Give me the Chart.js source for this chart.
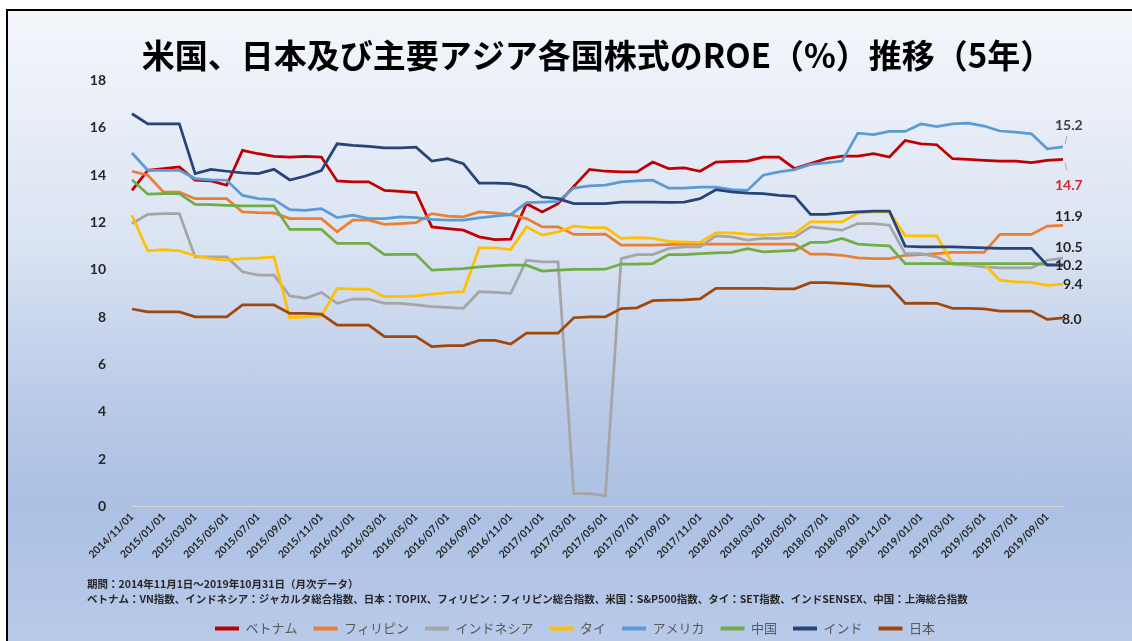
<!DOCTYPE html>
<html lang="ja">
<head>
<meta charset="utf-8">
<title>ROE推移</title>
<script src="https://cdn.jsdelivr.net/npm/chart.js@4.4.1/dist/chart.umd.min.js"></script>
<style>
  html, body { margin: 0; padding: 0; width: 1132px; height: 641px; overflow: hidden; background: #fff; }
  #frame {
    position: absolute; left: 6px; top: 9px; right: 0; bottom: 0;
    border-top: 2px solid #000; border-left: 2px solid #000;
    background: linear-gradient(to bottom, #f4f6fb 0%, #dbe4f3 36%, #bccce9 60%, #abc0e3 78%, #b9cae9 100%);
  }
  #wrap { position: absolute; left: 0; top: 0; width: 1132px; height: 645px; }
</style>
</head>
<body>
<div id="frame"></div>
<div id="wrap"><canvas id="chartROE" width="1132" height="645"></canvas></div>
<script>
const months = [
  "2014/11/01", "2014/12/01",
  "2015/01/01", "2015/02/01", "2015/03/01", "2015/04/01", "2015/05/01", "2015/06/01",
  "2015/07/01", "2015/08/01", "2015/09/01", "2015/10/01", "2015/11/01", "2015/12/01",
  "2016/01/01", "2016/02/01", "2016/03/01", "2016/04/01", "2016/05/01", "2016/06/01",
  "2016/07/01", "2016/08/01", "2016/09/01", "2016/10/01", "2016/11/01", "2016/12/01",
  "2017/01/01", "2017/02/01", "2017/03/01", "2017/04/01", "2017/05/01", "2017/06/01",
  "2017/07/01", "2017/08/01", "2017/09/01", "2017/10/01", "2017/11/01", "2017/12/01",
  "2018/01/01", "2018/02/01", "2018/03/01", "2018/04/01", "2018/05/01", "2018/06/01",
  "2018/07/01", "2018/08/01", "2018/09/01", "2018/10/01", "2018/11/01", "2018/12/01",
  "2019/01/01", "2019/02/01", "2019/03/01", "2019/04/01", "2019/05/01", "2019/06/01",
  "2019/07/01", "2019/08/01", "2019/09/01", "2019/10/01"
];

const yTicks = [0, 2, 4, 6, 8, 10, 12, 14, 16, 18];

const vietnam = [
  13.36, 14.21, 14.28, 14.35, 13.79, 13.76, 13.58, 15.05, 14.91, 14.8, 14.77, 14.8,
  14.77, 13.76, 13.72, 13.72, 13.36, 13.32, 13.27, 11.82, 11.75, 11.68, 11.4, 11.28,
  11.3, 12.8, 12.45, 12.8, 13.53, 14.25, 14.17, 14.14, 14.14, 14.56, 14.28, 14.31,
  14.17, 14.56, 14.59, 14.6, 14.77, 14.77, 14.28, 14.49, 14.7, 14.81, 14.81, 14.91,
  14.77, 15.47, 15.33, 15.29, 14.7, 14.67, 14.63, 14.6, 14.6, 14.53, 14.63, 14.67
];
const philippines = [
  14.17, 14.0, 13.29, 13.29, 13.01, 13.01, 13.01, 12.45, 12.42, 12.41, 12.17, 12.17,
  12.17, 11.61, 12.1, 12.1, 11.93, 11.96, 12.0, 12.38, 12.27, 12.24, 12.45, 12.41,
  12.34, 12.17, 11.82, 11.82, 11.5, 11.5, 11.51, 11.05, 11.05, 11.05, 11.07, 11.09,
  11.09, 11.09, 11.09, 11.09, 11.09, 11.09, 11.09, 10.67, 10.67, 10.62, 10.51, 10.48,
  10.48, 10.62, 10.65, 10.69, 10.74, 10.74, 10.74, 11.5, 11.5, 11.5, 11.85, 11.88
];
const indonesia = [
  11.96, 12.35, 12.38, 12.38, 10.55, 10.55, 10.55, 9.92, 9.78, 9.78, 8.9, 8.8,
  9.05, 8.59, 8.77, 8.77, 8.59, 8.59, 8.52, 8.45, 8.42, 8.38, 9.08, 9.05,
  9.01, 10.41, 10.34, 10.34, 0.55, 0.55, 0.45, 10.48, 10.65, 10.65, 10.9, 10.97,
  10.97, 11.44, 11.4, 11.26, 11.33, 11.33, 11.4, 11.82, 11.75, 11.68, 11.96, 11.96,
  11.89, 10.69, 10.69, 10.55, 10.24, 10.2, 10.13, 10.09, 10.09, 10.09, 10.41, 10.5
];
const thailand = [
  12.31, 10.81, 10.86, 10.81, 10.6, 10.48, 10.41, 10.48, 10.5, 10.55, 7.98, 8.02,
  8.05, 9.22, 9.19, 9.19, 8.87, 8.87, 8.9, 8.98, 9.04, 9.08, 10.93, 10.93,
  10.86, 11.82, 11.47, 11.61, 11.85, 11.79, 11.79, 11.33, 11.36, 11.33, 11.21, 11.18,
  11.16, 11.57, 11.57, 11.51, 11.47, 11.51, 11.54, 12.03, 12.03, 12.03, 12.4, 12.45,
  12.45, 11.44, 11.44, 11.44, 10.27, 10.25, 10.25, 9.57, 9.5, 9.47, 9.35, 9.4
];
const america = [
  14.94, 14.21, 14.21, 14.21, 13.86, 13.81, 13.79, 13.15, 13.01, 12.97, 12.55, 12.52,
  12.59, 12.21, 12.31, 12.17, 12.17, 12.24, 12.21, 12.14, 12.1, 12.1, 12.2, 12.27,
  12.34, 12.84, 12.87, 12.9, 13.46, 13.55, 13.58, 13.72, 13.76, 13.79, 13.46, 13.46,
  13.5, 13.5, 13.39, 13.36, 14.0, 14.14, 14.24, 14.46, 14.52, 14.6, 15.78, 15.72,
  15.85, 15.85, 16.17, 16.06, 16.17, 16.2, 16.08, 15.87, 15.82, 15.75, 15.12, 15.2
];
const china = [
  13.81, 13.2, 13.22, 13.22, 12.77, 12.76, 12.73, 12.71, 12.71, 12.71, 11.71, 11.71,
  11.71, 11.12, 11.12, 11.12, 10.65, 10.66, 10.66, 9.99, 10.02, 10.06, 10.13, 10.17,
  10.2, 10.2, 9.95, 9.99, 10.02, 10.02, 10.03, 10.25, 10.25, 10.27, 10.65, 10.65,
  10.69, 10.72, 10.74, 10.9, 10.76, 10.79, 10.83, 11.16, 11.16, 11.33, 11.09, 11.05,
  11.02, 10.27, 10.27, 10.27, 10.27, 10.27, 10.27, 10.27, 10.27, 10.27, 10.24, 10.2
];
const india = [
  16.6, 16.17, 16.17, 16.17, 14.07, 14.25, 14.17, 14.1, 14.07, 14.25, 13.8, 13.97,
  14.2, 15.33, 15.26, 15.22, 15.16, 15.16, 15.19, 14.6, 14.7, 14.49, 13.67, 13.67,
  13.65, 13.5, 13.08, 13.01, 12.8, 12.8, 12.8, 12.87, 12.87, 12.87, 12.85, 12.87,
  13.01, 13.39, 13.3, 13.25, 13.22, 13.15, 13.11, 12.35, 12.35, 12.41, 12.45, 12.48,
  12.48, 11.0, 10.97, 10.97, 10.97, 10.95, 10.93, 10.91, 10.91, 10.91, 10.2, 10.2
];
const japan = [
  8.35, 8.23, 8.23, 8.23, 8.02, 8.02, 8.02, 8.52, 8.52, 8.52, 8.16, 8.16,
  8.13, 7.67, 7.67, 7.67, 7.18, 7.18, 7.18, 6.76, 6.8, 6.8, 7.02, 7.02,
  6.87, 7.33, 7.33, 7.33, 7.98, 8.02, 8.02, 8.37, 8.4, 8.7, 8.72, 8.74,
  8.78, 9.22, 9.22, 9.22, 9.22, 9.2, 9.2, 9.46, 9.46, 9.43, 9.39, 9.32,
  9.32, 8.59, 8.6, 8.59, 8.38, 8.38, 8.35, 8.26, 8.26, 8.26, 7.91, 7.97
];

const series = [
  { label: "ベトナム", data: vietnam, color: "#c00000" },
  { label: "フィリピン", data: philippines, color: "#ed7d31" },
  { label: "インドネシア", data: indonesia, color: "#a5a5a5" },
  { label: "タイ", data: thailand, color: "#ffc000" },
  { label: "アメリカ", data: america, color: "#5b9bd5" },
  { label: "中国", data: china, color: "#70ad47" },
  { label: "インド", data: india, color: "#264478" },
  { label: "日本", data: japan, color: "#9e480e" },
];

// where the last-value labels sit relative to the last point
const endLabelStyle = {
  "アメリカ": { dx: -8, dy: -21, color: "#404040", leader: true },
  "ベトナム": { dx: -8, dy: 26, color: "#e0202a", leader: true },
  "フィリピン": { dx: -8, dy: -9, color: "#262626" },
  "インドネシア": { dx: -8, dy: -11, color: "#262626" },
  "インド": { dx: -8, dy: 0, color: "#262626" },
  "タイ": { dx: 0, dy: 0, color: "#262626" },
  "日本": { dx: -1, dy: 2, color: "#262626" },
};

const lastValueLabels = {
  id: "lastValueLabels",
  afterDatasetsDraw(chart) {
    const ctx = chart.ctx;
    ctx.save();
    ctx.font = "bold 14px Lato";
    ctx.textAlign = "left";
    ctx.textBaseline = "middle";
    chart.data.datasets.forEach((ds, i) => {
      const st = endLabelStyle[ds.label];
      if (!st) return;
      const pts = chart.getDatasetMeta(i).data;
      const pt = pts[pts.length - 1];
      const v = ds.data[ds.data.length - 1];
      if (st.leader) {
        const dir = st.dy < 0 ? -1 : 1;
        ctx.strokeStyle = "#a6a6a6";
        ctx.lineWidth = 1;
        ctx.beginPath();
        ctx.moveTo(pt.x + 2, pt.y + dir * 3);
        ctx.lineTo(pt.x + 4, pt.y + dir * 11);
        ctx.stroke();
      }
      ctx.fillStyle = st.color;
      ctx.fillText(v.toFixed(1), pt.x + st.dx, pt.y + st.dy);
    });
    ctx.restore();
  },
};

const jpFont = "'Noto Sans CJK JP', sans-serif";

new Chart(document.getElementById("chartROE"), {
  type: "line",
  data: {
    labels: months,
    datasets: series.map((s, i) => ({
      label: s.label,
      data: s.data,
      borderColor: s.color,
      backgroundColor: s.color,
      borderWidth: 2.75,
      pointRadius: 0,
      tension: 0,
      order: series.length - i,
    })),
  },
  options: {
    responsive: false,
    animation: false,
    layout: { padding: { left: 87, right: 69, top: 0, bottom: 0 } },
    scales: {
      x: {
        offset: false,
        grid: { display: false, drawTicks: false },
        border: { display: true, color: "#d9d9d9", width: 1 },
        ticks: {
          autoSkip: false,
          maxRotation: 45,
          minRotation: 45,
          padding: 4,
          color: "#262626",
          font: { family: "Lato", size: 10.5, weight: "bold" },
          callback: (value, index) => (index % 2 === 0 ? months[index] : ""),
        },
        afterFit: (scale) => { scale.height = 62; },
      },
      y: {
        min: 0,
        max: 18,
        grid: { display: false, drawTicks: false },
        border: { display: false },
        afterBuildTicks: (scale) => { scale.ticks = yTicks.map((v) => ({ value: v })); },
        ticks: {
          padding: 26,
          color: "#262626",
          font: { family: "Lato", size: 14, weight: "bold" },
        },
        afterFit: (scale) => { scale.width = 45; },
      },
    },
    plugins: {
      title: {
        display: true,
        fullSize: false,
        text: "米国、日本及び主要アジア各国株式のROE（%）推移（5年）",
        color: "#000",
        font: { family: jpFont, size: 33, weight: "bold" },
        padding: { top: 36, bottom: 5 },
      },
      subtitle: {
        display: true,
        position: "bottom",
        align: "start",
        text: [
          "期間：2014年11月1日～2019年10月31日（月次データ）",
          "ベトナム：VN指数、インドネシア：ジャカルタ総合指数、日本：TOPIX、フィリピン：フィリピン総合指数、米国：S&P500指数、タイ：SET指数、インドSENSEX、中国：上海総合指数",
        ],
        color: "#262626",
        font: { family: jpFont, size: 10.5, weight: "bold", lineHeight: 1.4 },
        padding: { top: 8, bottom: 0 },
      },
      legend: {
        position: "bottom",
        weight: 2000,
        labels: {
          boxWidth: 24,
          boxHeight: 4,
          padding: 16,
          color: "#595959",
          font: { family: jpFont, size: 13 },
          sort: (a, b) => a.datasetIndex - b.datasetIndex,
          generateLabels: (chart) =>
            Chart.defaults.plugins.legend.labels.generateLabels(chart).map((l) => ({
              ...l,
              lineWidth: 0,
              fillStyle: l.strokeStyle,
            })),
        },
      },
      tooltip: { enabled: false },
    },
  },
  plugins: [lastValueLabels],
});
</script>
</body>
</html>
